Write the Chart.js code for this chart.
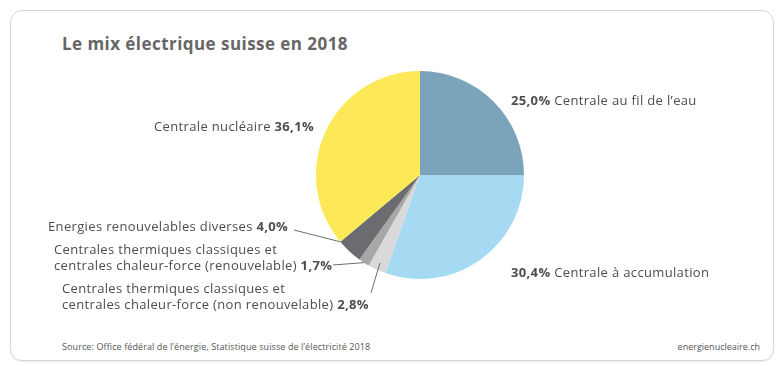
<!DOCTYPE html>
<html>
<head>
<meta charset="utf-8">
<script src="https://cdn.jsdelivr.net/npm/chart.js@4"></script>
<style>
  html, body { margin: 0; padding: 0; background: #fff; }
  body { width: 780px; height: 366px; position: relative; overflow: hidden; font-family: "Open Sans", sans-serif; }
  .card {
    position: absolute; left: 10px; top: 10px; width: 764px; height: 351px;
    border: 1px solid #d6d6d6; border-radius: 12px; box-sizing: border-box;
    box-shadow: 0 1px 2px rgba(0,0,0,0.08);
  }
  .title { position: absolute; left: 62px; top: 32px; font-size: 17px; font-weight: 700; color: #666; letter-spacing: 0.45px; }
  .source { position: absolute; left: 62px; top: 340px; font-size: 9px; color: #555; letter-spacing: 0.1px; }
  .site { position: absolute; right: 20px; top: 340px; font-size: 9px; color: #555; }
  canvas { position: absolute; left: 0; top: 0; }
</style>
</head>
<body>
<div class="card"></div>
<div class="title">Le mix électrique suisse en 2018</div>
<div class="source">Source: Office fédéral de l’énergie, Statistique suisse de l’électricité 2018</div>
<div class="site">energienucleaire.ch</div>
<canvas id="mix" width="780" height="366"></canvas>
<script>
// --- data ---
const categories = [
  'Centrale au fil de l’eau',
  'Centrale à accumulation',
  'Centrales thermiques classiques et centrales chaleur-force (non renouvelable)',
  'Centrales thermiques classiques et centrales chaleur-force (renouvelable)',
  'Energies renouvelables diverses',
  'Centrale nucléaire'
];
const shares = [25.0, 30.4, 2.8, 1.7, 4.0, 36.1];
const sliceColors = ['#7ba4bb', '#a6daf3', '#d9d9d9', '#a7a7a7', '#6b6c6f', '#fde958'];

// how each label is laid out: text lines, where the text sits, and leader line
const labelLayout = [
  { lines: [['25,0%', true], [' Centrale au fil de l’eau', false]], x: 511, y: 101, align: 'left' },
  { lines: [['30,4%', true], [' Centrale à accumulation', false]], x: 511, y: 273, align: 'left' },
  { lines: [['Centrales thermiques classiques et', false]], extra: [['centrales chaleur-force (non renouvelable) ', false], ['2,8%', true]],
    x: 62, y: 289, align: 'left', leader: { from: [371, 293], at: 0.5, r: 0.93 } },
  { lines: [['Centrales thermiques classiques et', false]], extra: [['centrales chaleur-force (renouvelable) ', false], ['1,7%', true]],
    x: 54, y: 250, align: 'left', leader: { from: [333, 265], at: 0.5, r: 1.0 } },
  { lines: [['Energies renouvelables diverses ', false], ['4,0%', true]], x: 48, y: 227, align: 'left', leader: { from: [294, 230], at: 1.0, r: 1.0 } },
  { lines: [['Centrale nucléaire ', false], ['36,1%', true]], x: 314, y: 127, align: 'right' }
];

const textColor = '#4d4d4d';
const fontFamily = '"Open Sans", sans-serif';

function drawRuns(ctx, runs, x, y, align) {
  ctx.letterSpacing = '0.35px';
  let total = 0;
  runs.forEach(([t, b]) => {
    ctx.font = (b ? '700 ' : '400 ') + '13px ' + fontFamily;
    total += ctx.measureText(t).width;
  });
  let cx = align === 'right' ? x - total : x;
  runs.forEach(([t, b]) => {
    ctx.font = (b ? '700 ' : '400 ') + '13px ' + fontFamily;
    ctx.fillText(t, cx, y);
    cx += ctx.measureText(t).width;
  });
}

const labelPlugin = {
  id: 'pieLabels',
  afterDraw(chart) {
    const ctx = chart.ctx;
    const meta = chart.getDatasetMeta(0);
    ctx.save();
    ctx.fillStyle = textColor;
    ctx.textBaseline = 'middle';
    labelLayout.forEach((lab, i) => {
      const arc = meta.data[i];
      drawRuns(ctx, lab.lines, lab.x, lab.y, lab.align);
      if (lab.extra) drawRuns(ctx, lab.extra, lab.x, lab.y + 16, lab.align);
      if (lab.leader) {
        const p = arc.getProps(['x', 'y', 'startAngle', 'endAngle', 'outerRadius'], true);
        const a = p.startAngle + (p.endAngle - p.startAngle) * lab.leader.at;
        const r = p.outerRadius * lab.leader.r;
        ctx.strokeStyle = '#6b6c6f';
        ctx.lineWidth = 1;
        ctx.beginPath();
        ctx.moveTo(lab.leader.from[0], lab.leader.from[1]);
        ctx.lineTo(p.x + Math.cos(a) * r, p.y + Math.sin(a) * r);
        ctx.stroke();
      }
    });
    ctx.restore();
  }
};

new Chart(document.getElementById('mix'), {
  type: 'pie',
  data: {
    labels: categories,
    datasets: [{
      data: shares,
      backgroundColor: sliceColors,
      borderWidth: 0
    }]
  },
  options: {
    responsive: false,
    animation: false,
    layout: { padding: { left: 316, right: 256, top: 71, bottom: 87 } },
    plugins: {
      legend: { display: false },
      tooltip: { enabled: false }
    }
  },
  plugins: [labelPlugin]
});
</script>
</body>
</html>
